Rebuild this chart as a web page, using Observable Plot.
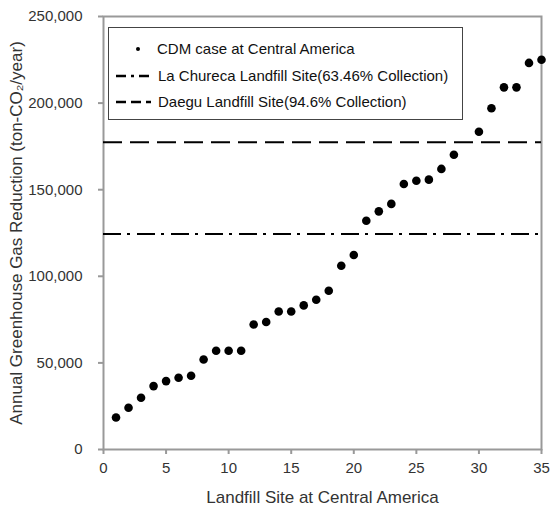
<!DOCTYPE html>
<html>
<head>
<meta charset="utf-8">
<script src="https://cdn.jsdelivr.net/npm/d3@7"></script>
<script src="https://cdn.jsdelivr.net/npm/@observablehq/plot@0.6"></script>
<style>
  body { margin: 0; background: #fff; }
  #wrap { position: relative; width: 551px; height: 507px; font-family: "Liberation Sans", Arial, sans-serif; }
  #legend { position: absolute; left: 108px; top: 27px; width: 353px; height: 91px; border: 1px solid #444; background: #fff; font-size: 15px; color: #111; }
  .row { position: absolute; left: 0; height: 18px; }
  .row svg { position: absolute; left: 6px; top: 0; }
  .row span { position: absolute; left: 49px; top: 0; white-space: nowrap; line-height: 18px; }
</style>
</head>
<body>
<div id="wrap"></div>
<script>
const sites = [1,2,3,4,5,6,7,8,9,10,11,12,13,14,15,16,17,18,19,20,21,22,23,24,25,26,27,28,30,31,32,33,34,35];
const reductions = [18500,24100,29900,36600,39500,41400,42600,52000,57000,57000,57000,72200,73600,79700,79700,83200,86500,91700,106100,112300,132100,137500,141800,153300,155200,155800,162000,170200,183500,197000,209100,209100,223200,225000];
const xTicks = [0,5,10,15,20,25,30,35];
const yTicks = [0,50000,100000,150000,200000,250000];
const laChurecaValue = 124400;
const daeguValue = 177400;
const xTitle = "Landfill Site at Central America";
const yTitle = "Annual Greenhouse Gas Reduction (ton-CO\u2082/year)";
const legendLabels = ["CDM case at Central America", "La Chureca Landfill Site(63.46% Collection)", "Daegu Landfill Site(94.6% Collection)"];

const data = sites.map((s, i) => ({site: s, value: reductions[i]}));

const chart = Plot.plot({
  width: 551,
  height: 507,
  marginLeft: 103,
  marginRight: 10,
  marginTop: 16,
  marginBottom: 58,
  style: {fontFamily: "'Liberation Sans', Arial, sans-serif", fontSize: "15px", color: "#222", background: "#fff"},
  x: {domain: [0, 35]},
  y: {domain: [0, 250000]},
  marks: [
    Plot.frame({stroke: "#999", strokeWidth: 2}),
    Plot.axisX({ticks: xTicks, tickSize: 5, tickPadding: 8, stroke: "#999", strokeWidth: 2, fill: "#333", label: null}),
    Plot.axisY({ticks: yTicks, tickFormat: d3.format(","), tickSize: 5, tickPadding: 16, stroke: "#999", strokeWidth: 2, fill: "#333", label: null}),
    Plot.text([xTitle], {frameAnchor: "bottom", dy: 48, textAnchor: "middle", lineAnchor: "middle", fontSize: 17, fill: "#333"}),
    Plot.text([yTitle], {frameAnchor: "left", dx: -87, rotate: -90, textAnchor: "middle", lineAnchor: "middle", fontSize: 17, fill: "#333"}),
    Plot.ruleY([laChurecaValue], {stroke: "#000", strokeWidth: 2, strokeDasharray: "18,6,3,7"}),
    Plot.ruleY([daeguValue], {stroke: "#000", strokeWidth: 2, strokeDasharray: "19,8"}),
    Plot.dot(data, {x: "site", y: "value", r: 4.3, fill: "#000", stroke: "none"})
  ]
});

const wrap = document.getElementById("wrap");
wrap.appendChild(chart);

const legend = document.createElement("div");
legend.id = "legend";
const rowsTop = [12, 39, 65];
const sampleSvgs = [
  '<svg width="40" height="18"><circle cx="23" cy="9" r="2" fill="#000"/></svg>',
  '<svg width="40" height="18"><line x1="1" x2="36" y1="9" y2="9" stroke="#000" stroke-width="2.5" stroke-dasharray="10,5,3,5"/></svg>',
  '<svg width="40" height="18"><line x1="1" x2="36" y1="9" y2="9" stroke="#000" stroke-width="2.5" stroke-dasharray="10,5"/></svg>'
];
legendLabels.forEach((lab, i) => {
  const row = document.createElement("div");
  row.className = "row";
  row.style.top = rowsTop[i] + "px";
  row.innerHTML = sampleSvgs[i] + '<span style="left:' + (i === 0 ? 48 : 49) + 'px">' + lab + '</span>';
  legend.appendChild(row);
});
wrap.appendChild(legend);
</script>
</body>
</html>
